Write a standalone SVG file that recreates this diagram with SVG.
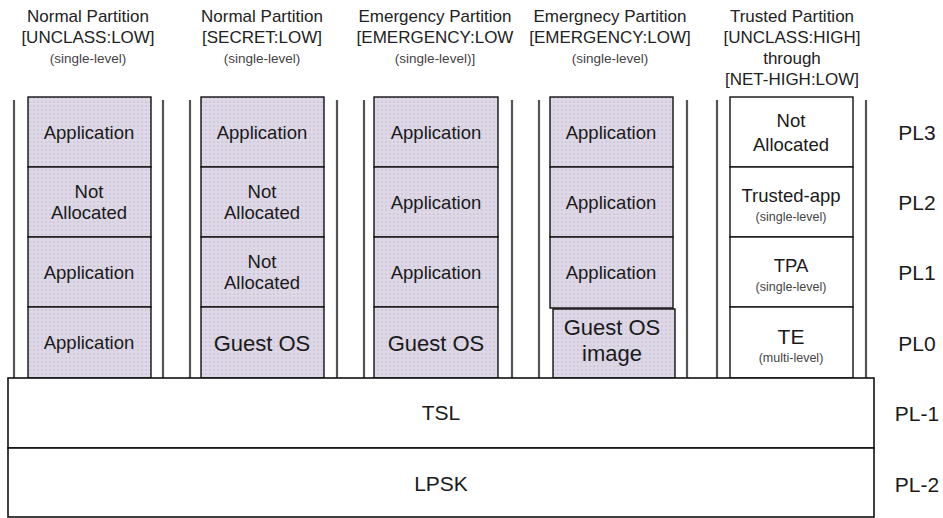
<svg xmlns="http://www.w3.org/2000/svg" width="943" height="518" viewBox="0 0 943 518">
<style>
text{font-family:"Liberation Sans",Arial,sans-serif;fill:#1a1a1a;text-anchor:middle}
.h{font-size:17px;fill:#222}
.hs{font-size:13.5px;fill:#444}
.b{font-size:18.5px}
.g{font-size:22px}
.s{font-size:12.5px;fill:#444}
.pl{font-size:21px}
.big{font-size:21px}
.cell{fill:url(#dots);stroke:#111;stroke-width:1.4}
.wcell{fill:#fff;stroke:#111;stroke-width:1.4}
.wall{stroke:#555;stroke-width:2.2;fill:none}
.base{fill:#fff;stroke:#111;stroke-width:1.6}
</style>
<defs>
<pattern id="dots" width="4" height="4" patternUnits="userSpaceOnUse">
<rect width="4" height="4" fill="#ddd7e6"/>
<circle cx="2" cy="2" r="0.8" fill="#c2b9d0"/>
</pattern>
</defs>
<rect width="943" height="518" fill="#fff"/>

<g id="headers">
<g id="h1"><text class="h" x="88" y="22">Normal Partition</text><text class="h" x="88" y="43">[UNCLASS:LOW]</text><text class="hs" x="88" y="63">(single-level)</text></g>
<g id="h2"><text class="h" x="262" y="22">Normal Partition</text><text class="h" x="262" y="43">[SECRET:LOW]</text><text class="hs" x="262" y="63">(single-level)</text></g>
<g id="h3"><text class="h" x="435" y="22">Emergency Partition</text><text class="h" x="435" y="43">[EMERGENCY:LOW</text><text class="hs" x="435" y="63">(single-level)]</text></g>
<g id="h4"><text class="h" x="610" y="22">Emergnecy Partition</text><text class="h" x="610" y="43">[EMERGENCY:LOW]</text><text class="hs" x="610" y="63">(single-level)</text></g>
<g id="h5"><text class="h" x="792" y="22">Trusted Partition</text><text class="h" x="792" y="43">[UNCLASS:HIGH]</text><text class="h" x="792" y="64">through</text><text class="h" x="792" y="85">[NET-HIGH:LOW]</text></g>
</g>

<g id="connectors">
<line class="wall" x1="14" y1="100" x2="14" y2="378"/>
<line class="wall" x1="163" y1="100" x2="163" y2="378"/>
<line class="wall" x1="190" y1="100" x2="190" y2="378"/>
<line class="wall" x1="337" y1="100" x2="337" y2="378"/>
<line class="wall" x1="364" y1="100" x2="364" y2="378"/>
<line class="wall" x1="512" y1="100" x2="512" y2="378"/>
<line class="wall" x1="539" y1="100" x2="539" y2="378"/>
<line class="wall" x1="687" y1="100" x2="687" y2="378"/>
<line class="wall" x1="717" y1="100" x2="717" y2="378"/>
<line class="wall" x1="866" y1="100" x2="866" y2="378"/>
</g>

<g id="col1">
<g id="c1r3"><rect class="cell" x="28" y="97" width="123" height="70"/><text class="b" x="89" y="139">Application</text></g>
<g id="c1r2"><rect class="cell" x="28" y="167" width="123" height="70"/><text class="b" x="89" y="198">Not</text><text class="b" x="89" y="219">Allocated</text></g>
<g id="c1r1"><rect class="cell" x="28" y="237" width="123" height="70"/><text class="b" x="89" y="279">Application</text></g>
<g id="c1r0"><rect class="cell" x="28" y="307" width="123" height="71"/><text class="b" x="89" y="349">Application</text></g>
</g>

<g id="col2">
<g id="c2r3"><rect class="cell" x="201" y="97" width="123" height="70"/><text class="b" x="262" y="139">Application</text></g>
<g id="c2r2"><rect class="cell" x="201" y="167" width="123" height="70"/><text class="b" x="262" y="198">Not</text><text class="b" x="262" y="219">Allocated</text></g>
<g id="c2r1"><rect class="cell" x="201" y="237" width="123" height="70"/><text class="b" x="262" y="268">Not</text><text class="b" x="262" y="289">Allocated</text></g>
<g id="c2r0"><rect class="cell" x="201" y="307" width="123" height="71"/><text class="g" x="262" y="351">Guest OS</text></g>
</g>

<g id="col3">
<g id="c3r3"><rect class="cell" x="374" y="97" width="124" height="70"/><text class="b" x="436" y="139">Application</text></g>
<g id="c3r2"><rect class="cell" x="374" y="167" width="124" height="70"/><text class="b" x="436" y="209">Application</text></g>
<g id="c3r1"><rect class="cell" x="374" y="237" width="124" height="70"/><text class="b" x="436" y="279">Application</text></g>
<g id="c3r0"><rect class="cell" x="374" y="307" width="124" height="71"/><text class="g" x="436" y="351">Guest OS</text></g>
</g>

<g id="col4">
<g id="c4r3"><rect class="cell" x="550" y="97" width="123" height="70"/><text class="b" x="611" y="139">Application</text></g>
<g id="c4r2"><rect class="cell" x="550" y="167" width="123" height="70"/><text class="b" x="611" y="209">Application</text></g>
<g id="c4r1"><rect class="cell" x="550" y="237" width="123" height="71"/><text class="b" x="611" y="279">Application</text></g>
<g id="c4r0"><rect class="cell" x="553" y="309" width="122" height="69"/><text class="g" x="612" y="335">Guest OS</text><text class="g" x="612" y="361">image</text></g>
</g>

<g id="col5">
<g id="c5r3"><rect class="wcell" x="730" y="97" width="123" height="70"/><text class="b" x="791" y="127">Not</text><text class="b" x="791" y="151">Allocated</text></g>
<g id="c5r2"><rect class="wcell" x="730" y="167" width="123" height="70"/><text class="b" x="791" y="202">Trusted-app</text><text class="s" x="791" y="221">(single-level)</text></g>
<g id="c5r1"><rect class="wcell" x="730" y="237" width="123" height="70"/><text class="b" x="791" y="272">TPA</text><text class="s" x="791" y="291">(single-level)</text></g>
<g id="c5r0"><rect class="wcell" x="730" y="307" width="123" height="71"/><text class="big" x="791" y="344">TE</text><text class="s" x="791" y="362">(multi-level)</text></g>
</g>

<g id="tsl"><rect class="base" x="8" y="378" width="866" height="70"/><text class="big" x="441" y="420">TSL</text></g>
<g id="lpsk"><rect class="base" x="8" y="448" width="866" height="69"/><text class="big" x="441" y="491">LPSK</text></g>

<g id="levels">
<text class="pl" x="917" y="140">PL3</text>
<text class="pl" x="917" y="210">PL2</text>
<text class="pl" x="917" y="280">PL1</text>
<text class="pl" x="917" y="351">PL0</text>
<text class="pl" x="917" y="421">PL-1</text>
<text class="pl" x="917" y="492">PL-2</text>
</g>
</svg>
